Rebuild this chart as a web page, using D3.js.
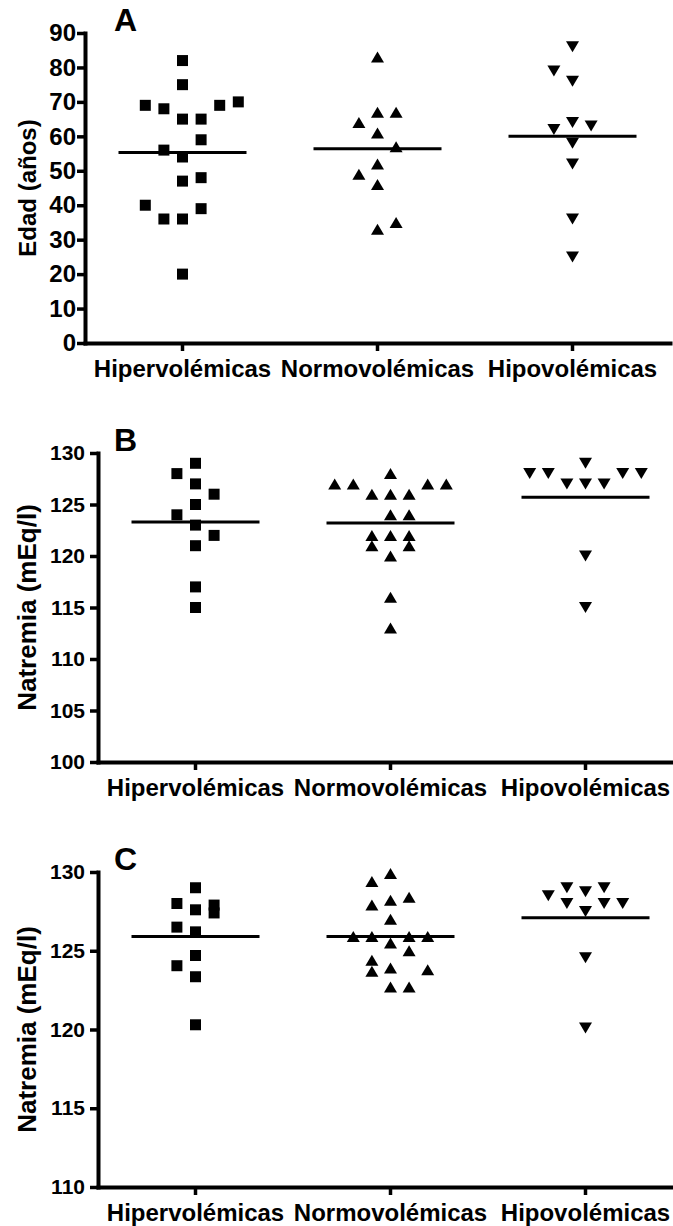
<!DOCTYPE html>
<html>
<head>
<meta charset="utf-8">
<script src="https://cdn.jsdelivr.net/npm/d3@7"></script>
<style>
  html, body { margin: 0; padding: 0; background: #fff; }
  svg { display: block; font-family: "Liberation Sans", Arial, sans-serif; font-weight: bold; }
</style>
</head>
<body>
<svg id="chart" width="673" height="1226"></svg>
<script>
// Three scatter panels (GraphPad style): points per group + mean line

const groups = ["Hipervolémicas", "Normovolémicas", "Hipovolémicas"];

// Panel A - Edad (años)
const edadHiper = [82, 75, 69, 68, 69, 70, 65, 65, 59, 56, 54, 47, 48, 40, 36, 36, 39, 20];
const edadHiperCol = [0, 0, -2, -1, 2, 3, 0, 1, 1, -1, 0, 0, 1, -2, -1, 0, 1, 0];
const edadNormo = [83, 67, 67, 64, 61, 57, 52, 49, 46, 35, 33];
const edadNormoCol = [0, 0, 1, -1, 0, 1, 0, -1, 0, 1, 0];
const edadHipo = [86, 79, 76, 64, 62, 63, 58, 52, 36, 25];
const edadHipoCol = [0, -1, 0, 0, -1, 1, 0, 0, 0, 0];
const edadMeans = [55.3, 56.4, 60.0];
const edadTicks = [0, 10, 20, 30, 40, 50, 60, 70, 80, 90];

// Panel B - Natremia (mEq/l)
const natBHiper = [129, 128, 127, 126, 125, 124, 123, 122, 121, 117, 115];
const natBHiperCol = [0, -1, 0, 1, 0, -1, 0, 1, 0, 0, 0];
const natBNormo = [128, 127, 127, 126, 126, 126, 127, 127, 124, 124, 122, 122, 122, 121, 121, 120, 116, 113];
const natBNormoCol = [0, -3, -2, -1, 0, 1, 2, 3, 0, 1, -1, 0, 1, -1, 1, 0, 0, 0];
const natBHipo = [129, 128, 128, 127, 127, 127, 128, 128, 120, 115];
const natBHipoCol = [0, -3, -2, -1, 0, 1, 2, 3, 0, 0];
const natBMeans = [123.3, 123.2, 125.7];
const natBTicks = [100, 105, 110, 115, 120, 125, 130];

// Panel C - Natremia (mEq/l)
const natCHiper = [129, 128, 127.6, 127.9, 127.4, 126.5, 126.2, 124.7, 124.05, 123.35, 120.3];
const natCHiperCol = [0, -1, 0, 1, 1, -1, 0, 0, -1, 0, 0];
const natCNormo = [129.4, 129.9, 127.9, 128.2, 128.4, 127.0, 125.9, 125.9, 125.9, 125.9, 125.5, 125.0, 124.4, 123.9, 123.7, 123.8, 122.7, 122.7];
const natCNormoCol = [-1, 0, -1, 0, 1, 0, -2, -1, 1, 2, 0, 1, -1, 0, -1, 2, 0, 1];
const natCHipo = [128.5, 129, 128.75, 129, 128, 128, 128, 127.5, 124.55, 120.1];
const natCHipoCol = [-2, -1, 0, 1, -1, 1, 2, 0, 0, 0];
const natCMeans = [125.9, 125.9, 127.1];
const natCTicks = [110, 115, 120, 125, 130];

const symbols = ["square", "up", "down"];

(function () {
  const svg = d3.select("#chart");

  const panels = [
    { letter: "A", title: "Edad (años)", domain: [0, 90], ticks: edadTicks,
      values: [edadHiper, edadNormo, edadHipo], cols: [edadHiperCol, edadNormoCol, edadHipoCol],
      means: edadMeans, top: 33, bottom: 343, left: 85, right: 670,
      tickFont: 24, tickPad: 1, titleFont: 24 },
    { letter: "B", title: "Natremia (mEq/l)", domain: [100, 130], ticks: natBTicks,
      values: [natBHiper, natBNormo, natBHipo], cols: [natBHiperCol, natBNormoCol, natBHipoCol],
      means: natBMeans, top: 453, bottom: 762, left: 98, right: 683,
      tickFont: 21, tickPad: 5, titleFont: 26 },
    { letter: "C", title: "Natremia (mEq/l)", domain: [110, 130], ticks: natCTicks,
      values: [natCHiper, natCNormo, natCHipo], cols: [natCHiperCol, natCNormoCol, natCHipoCol],
      means: natCMeans, top: 872, bottom: 1187, left: 98, right: 683,
      tickFont: 21, tickPad: 5, titleFont: 26 },
  ];

  // column offset inside a group, in marker-width steps
  const colScale = d3.scaleLinear().domain([0, 1]).range([0, 18.6]);
  const meanHalf = 64;

  function symbolPath(kind) {
    if (kind === "square") return "M-5.5,-5.5H5.5V5.5H-5.5Z";
    if (kind === "up") return "M0,-5.5L6.5,5.5L-6.5,5.5Z";
    return "M-6.5,-5.5L6.5,-5.5L0,5.5Z";
  }

  panels.forEach((p) => {
    const g = svg.append("g");

    const y = d3.scaleLinear().domain(p.domain).range([p.bottom, p.top]);
    const x = d3.scaleBand().domain(groups).range([p.left, p.right]);
    const cx = (grp) => x(grp) + x.bandwidth() / 2;

    // y axis
    const yAxis = g.append("g")
      .attr("transform", `translate(${p.left},0)`)
      .call(d3.axisLeft(y).tickValues(p.ticks).tickSize(8).tickSizeOuter(0).tickPadding(p.tickPad));
    yAxis.selectAll("path.domain").attr("stroke-width", 4).attr("stroke-linecap", "square");
    yAxis.selectAll(".tick line").attr("stroke-width", 3.5);
    yAxis.selectAll(".tick text")
      .attr("font-size", p.tickFont)
      .attr("font-family", "Liberation Sans, Arial, sans-serif")
      .attr("font-weight", "bold")
      .attr("fill", "#000");

    // x axis
    const xAxis = g.append("g")
      .attr("transform", `translate(0,${p.bottom})`)
      .call(d3.axisBottom(x).tickSize(8).tickSizeOuter(0).tickPadding(9));
    xAxis.selectAll("path.domain").attr("stroke-width", 4).attr("stroke-linecap", "square");
    xAxis.selectAll(".tick line").attr("stroke-width", 3.5);
    xAxis.selectAll(".tick text")
      .attr("font-size", 24)
      .attr("font-family", "Liberation Sans, Arial, sans-serif")
      .attr("font-weight", "bold")
      .attr("fill", "#000");

    // y title
    g.append("text")
      .attr("transform", `translate(36,${(p.top + p.bottom) / 2}) rotate(-90)`)
      .attr("text-anchor", "middle")
      .attr("font-size", p.titleFont)
      .text(p.title);

    // panel letter
    g.append("text")
      .attr("x", 114)
      .attr("y", p.top - 2)
      .attr("font-size", 32)
      .text(p.letter);

    // points
    groups.forEach((grp, gi) => {
      const pts = p.values[gi].map((v, i) => ({ v, c: p.cols[gi][i] }));
      g.append("g").selectAll("path")
        .data(pts)
        .join("path")
        .attr("d", symbolPath(symbols[gi]))
        .attr("transform", (d) => `translate(${cx(grp) + colScale(d.c)},${y(d.v)})`)
        .attr("fill", "#000");

      // mean line
      g.append("line")
        .attr("x1", cx(grp) - meanHalf)
        .attr("x2", cx(grp) + meanHalf)
        .attr("y1", y(p.means[gi]))
        .attr("y2", y(p.means[gi]))
        .attr("stroke", "#000")
        .attr("stroke-width", 3);
    });
  });
})();
</script>
</body>
</html>
